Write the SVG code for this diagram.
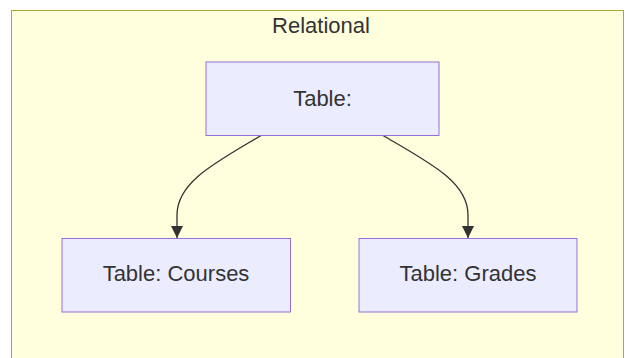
<svg xmlns="http://www.w3.org/2000/svg" width="635" height="358" viewBox="0 0 635 358">
<style>
.cluster{fill:#ffffde;stroke:#aaaa33;stroke-width:1}
.node rect{fill:#ECECFF;stroke:#9370DB;stroke-width:1}
text{font-family:"Liberation Sans",Arial,sans-serif;font-size:22px;fill:#333;text-anchor:middle}
.edge{fill:none;stroke:#333;stroke-width:1.3}
</style>
<defs>
<marker id="arrow" viewBox="0 0 10 10" refX="10" refY="5" markerWidth="12" markerHeight="12" markerUnits="userSpaceOnUse" orient="auto">
<path d="M0,0 L10,5 L0,10 z" fill="#333"/>
</marker>
</defs>
<rect class="cluster" x="11.5" y="10.5" width="612" height="360"/>
<text x="321" y="33">Relational</text>
<g id="connectors">
<path class="edge" d="M261,135.5 C215,163 177,182 177,215 L177,238" marker-end="url(#arrow)"/>
<path class="edge" d="M383,135.5 C430,163 468,182 468,215 L468,238" marker-end="url(#arrow)"/>
</g>
<g id="node-table" class="node">
<rect x="206" y="62" width="233" height="73.5"/>
<text x="322.5" y="106">Table:</text>
</g>
<g id="node-courses" class="node">
<rect x="62" y="238.5" width="228.5" height="73.5"/>
<text x="176" y="281">Table: Courses</text>
</g>
<g id="node-grades" class="node">
<rect x="359" y="238.5" width="218" height="73.5"/>
<text x="468" y="281">Table: Grades</text>
</g>
</svg>
